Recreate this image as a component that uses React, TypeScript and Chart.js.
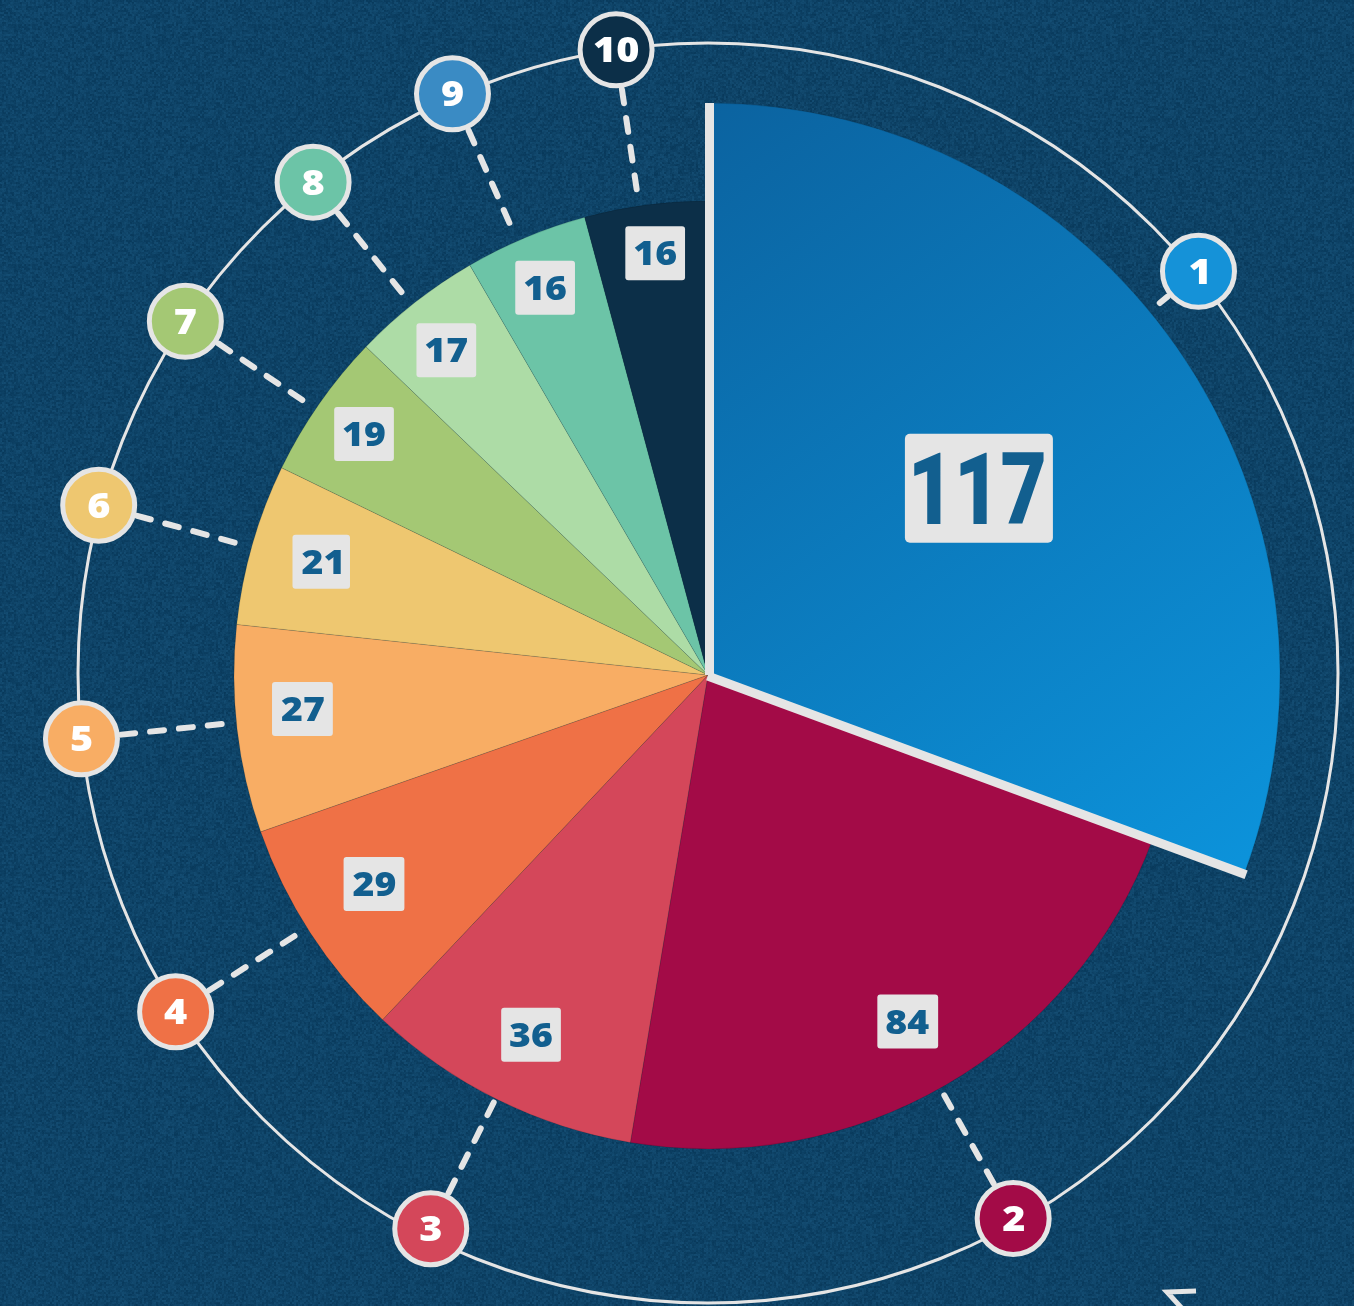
import React, { useEffect, useRef } from "react";
import { Chart, registerables } from "chart.js";

Chart.register(...registerables);

// ---- data ----
const categories = ["1", "2", "3", "4", "5", "6", "7", "8", "9", "10"];
const values = [117, 84, 36, 29, 27, 21, 19, 17, 16, 16];
const valueLabels = ["117", "84", "36", "29", "27", "21", "19", "17", "16", "16"];
const sliceColors = ["#0b6fae", "#a30b47", "#d4475a", "#ef7146", "#f8ad64", "#eec770", "#a4c874", "#addca6", "#6cc4a7", "#0c2f48"];
const markerColors = ["#1592d8", "#a30b47", "#d4475a", "#ef7146", "#f8ad64", "#eec770", "#a4c874", "#6cc4a7", "#3a8bc4", "#0c2f48"];

// ---- layout / styling constants ----
const W = 1354;
const H = 1306;
const BIG_R = 572;
const SMALL_R = 474;
const RING_R = 630;
const MARKER_R = 36;
const LIGHT = "#e5e5e5";
const BG = [14, 67, 103];
const FONT = "'Open Sans', Roboto, sans-serif";
const BIG_FONT = "Roboto, 'Open Sans', sans-serif";
// fine placement of the ring markers (degrees shift from slice middle, radius)
const markerShiftDeg = [-4.45, 0.93, 0.13, 0.52, 0.6, -0.62, -0.93, -0.65, -1.19, -0.85];
const markerRadius = [634, 625, 621, 631, 630, 632, 630, 630, 633, 630];
// fine placement of the value boxes
const labelShiftDeg = [0.3, 0.2, -0.2, 0.95, 1.8, 0.3, 0.15, -0.7, -0.2, 0.4];
const labelRadius = [329, 400, 401, 394, 407, 403, 420, 417, 420, 425];

function hash(x: number, y: number) {
  const s = Math.sin(x * 12.9898 + y * 78.233) * 43758.5453;
  return s - Math.floor(s);
}

function makeNoisePattern(ctx: CanvasRenderingContext2D) {
  const size = 240;
  const c = document.createElement("canvas");
  c.width = size;
  c.height = size;
  const g = c.getContext("2d")!;
  const img = g.createImageData(size, size);
  for (let y = 0; y < size; y++) {
    for (let x = 0; x < size; x++) {
      const n = (hash(Math.floor(x / 2), Math.floor(y / 2)) - 0.5) * 16 + (hash(x, y) - 0.5) * 6;
      const k = (y * size + x) * 4;
      img.data[k] = Math.max(0, Math.min(255, BG[0] + n * 0.6));
      img.data[k + 1] = Math.max(0, Math.min(255, BG[1] + n));
      img.data[k + 2] = Math.max(0, Math.min(255, BG[2] + n * 1.2));
      img.data[k + 3] = 255;
    }
  }
  g.putImageData(img, 0, 0);
  return ctx.createPattern(c, "repeat");
}

// draws text so that its ink is centred on (x, y), stretched horizontally by sx
function drawCenteredInk(ctx: CanvasRenderingContext2D, txt: string, x: number, y: number, sx: number) {
  const m = ctx.measureText(txt);
  const inkW = m.actualBoundingBoxRight + m.actualBoundingBoxLeft;
  const inkH = m.actualBoundingBoxAscent + m.actualBoundingBoxDescent;
  ctx.save();
  ctx.translate(x, y);
  ctx.scale(sx, 1);
  ctx.textAlign = "left";
  ctx.textBaseline = "alphabetic";
  ctx.fillText(txt, -inkW / 2 + m.actualBoundingBoxLeft, inkH / 2 - m.actualBoundingBoxDescent);
  ctx.restore();
  return inkW * sx;
}

const deg = Math.PI / 180;

const decoPlugin = {
  id: "deco",
  beforeDraw(chart: any) {
    const ctx: CanvasRenderingContext2D = chart.ctx;
    ctx.save();
    const pat = makeNoisePattern(ctx);
    ctx.fillStyle = pat || `rgb(${BG.join(",")})`;
    ctx.fillRect(0, 0, chart.width, chart.height);
    ctx.restore();
  },
  afterDatasetsUpdate(chart: any) {
    const meta = chart.getDatasetMeta(0);
    meta.data.forEach((arc: any, i: number) => {
      if (i > 0) arc.outerRadius = SMALL_R;
    });
  },
  beforeDatasetsDraw(chart: any) {
    const ctx: CanvasRenderingContext2D = chart.ctx;
    const meta = chart.getDatasetMeta(0);
    const arcs = meta.data;
    if (!arcs.length) return;
    const cx = arcs[0].x;
    const cy = arcs[0].y;
    const ry = cy - 2;
    ctx.save();
    // outer ring
    ctx.beginPath();
    ctx.arc(cx, ry, RING_R, 0, Math.PI * 2);
    ctx.strokeStyle = LIGHT;
    ctx.lineWidth = 3;
    ctx.stroke();

    arcs.forEach((arc: any, i: number) => {
      const a = (arc.startAngle + arc.endAngle) / 2 + markerShiftDeg[i] * deg;
      const mr = markerRadius[i];
      const mx = cx + mr * Math.cos(a);
      const my = ry + mr * Math.sin(a);
      // dashed connector
      const r1 = i === 0 ? BIG_R + 12 : SMALL_R + 6;
      const r2 = mr - MARKER_R - 4;
      ctx.beginPath();
      ctx.setLineDash([14, 15]);
      ctx.lineCap = "round";
      ctx.lineWidth = 6;
      ctx.strokeStyle = LIGHT;
      ctx.moveTo(cx + r2 * Math.cos(a), ry + r2 * Math.sin(a));
      ctx.lineTo(cx + r1 * Math.cos(a), ry + r1 * Math.sin(a));
      ctx.stroke();
      ctx.setLineDash([]);
      // marker
      ctx.beginPath();
      ctx.arc(mx, my, MARKER_R, 0, Math.PI * 2);
      ctx.fillStyle = markerColors[i];
      ctx.fill();
      ctx.lineWidth = 5;
      ctx.strokeStyle = LIGHT;
      ctx.stroke();
      ctx.fillStyle = "#ffffff";
      ctx.font = `800 36px ${FONT}`;
      drawCenteredInk(ctx, categories[i], mx, my, 1.1);
    });
    ctx.restore();
  },
  afterDatasetsDraw(chart: any) {
    const ctx: CanvasRenderingContext2D = chart.ctx;
    const meta = chart.getDatasetMeta(0);
    const arcs = meta.data;
    if (!arcs.length) return;
    const cx = arcs[0].x;
    const cy = arcs[0].y;
    ctx.save();
    // white edges of the first slice
    const s = arcs[0].startAngle;
    const e = arcs[0].endAngle;
    ctx.strokeStyle = LIGHT;
    ctx.lineWidth = 9;
    ctx.lineCap = "butt";
    ctx.beginPath();
    let ox = -Math.sin(s) * 1.5;
    let oy = Math.cos(s) * 1.5;
    ctx.moveTo(cx + ox, cy + oy);
    ctx.lineTo(cx + ox + BIG_R * Math.cos(s), cy + oy + BIG_R * Math.sin(s));
    ctx.stroke();
    ctx.beginPath();
    ox = -Math.sin(e) * 1;
    oy = Math.cos(e) * 1;
    ctx.moveTo(cx + ox, cy + oy);
    ctx.lineTo(cx + ox + (BIG_R + 2) * Math.cos(e), cy + oy + (BIG_R + 2) * Math.sin(e));
    ctx.stroke();

    // value labels
    arcs.forEach((arc: any, i: number) => {
      const a = (arc.startAngle + arc.endAngle) / 2 + labelShiftDeg[i] * deg;
      const r = labelRadius[i];
      const lx = cx + r * Math.cos(a);
      const ly = cy + r * Math.sin(a);
      const txt = valueLabels[i];
      if (i === 0) {
        const bw = 148;
        const bh = 109;
        ctx.fillStyle = LIGHT;
        ctx.beginPath();
        ctx.roundRect(lx - bw / 2, ly - bh / 2, bw, bh, 5);
        ctx.fill();
        ctx.fillStyle = "#125f8f";
        ctx.font = `900 100px ${BIG_FONT}`;
        drawCenteredInk(ctx, txt, lx, ly, 0.8);
      } else {
        ctx.font = `800 34px ${FONT}`;
        const m = ctx.measureText(txt);
        const inkW = (m.actualBoundingBoxRight + m.actualBoundingBoxLeft) * 1.1;
        const bw = Math.max(53, inkW + 18);
        const bh = 54;
        ctx.fillStyle = LIGHT;
        ctx.beginPath();
        ctx.roundRect(lx - bw / 2, ly - bh / 2, bw, bh, 3);
        ctx.fill();
        ctx.fillStyle = "#125f8f";
        drawCenteredInk(ctx, txt, lx, ly, 1.1);
      }
    });

    // small arrow at bottom right
    ctx.strokeStyle = LIGHT;
    ctx.lineWidth = 5;
    ctx.lineCap = "butt";
    ctx.beginPath();
    ctx.moveTo(cx + 488, cy + 616);
    ctx.lineTo(cx + 459, cy + 617);
    ctx.lineTo(cx + 480, cy + 640);
    ctx.stroke();
    ctx.restore();
  },
};

export default function App() {
  const canvasRef = useRef<HTMLCanvasElement | null>(null);

  useEffect(() => {
    const prevMargin = document.body.style.margin;
    document.body.style.margin = "0";
    const canvas = canvasRef.current;
    if (!canvas) return;
    const chart = new Chart(canvas, {
      type: "pie",
      data: {
        labels: categories,
        datasets: [
          {
            data: values,
            backgroundColor: (c: any) => {
              const i = c.dataIndex;
              if (i !== 0) return sliceColors[i];
              const area = c.chart.chartArea;
              if (!area) return sliceColors[0];
              const x0 = (area.left + area.right) / 2;
              const y0 = (area.top + area.bottom) / 2;
              const g = c.chart.ctx.createLinearGradient(x0, y0 - BIG_R, x0 + BIG_R * 0.95, y0 + BIG_R * 0.35);
              g.addColorStop(0, "#0b63a0");
              g.addColorStop(1, "#0c93db");
              return g;
            },
            borderWidth: 1,
            borderColor: "rgba(0,0,0,0.12)",
          },
        ],
      },
      options: {
        responsive: false,
        maintainAspectRatio: false,
        animation: false,
        events: [],
        radius: BIG_R,
        layout: { padding: { left: 62, right: 0, top: 44, bottom: 0 } },
        plugins: {
          legend: { display: false },
          tooltip: { enabled: false },
        },
      } as any,
      plugins: [decoPlugin as any],
    });
    return () => {
      chart.destroy();
      document.body.style.margin = prevMargin;
    };
  }, []);

  return (
    <div style={{ position: "fixed", left: 0, top: 0, width: W, height: H, overflow: "hidden" }}>
      <canvas ref={canvasRef} width={W} height={H} style={{ display: "block", width: W, height: H }} />
    </div>
  );
}
